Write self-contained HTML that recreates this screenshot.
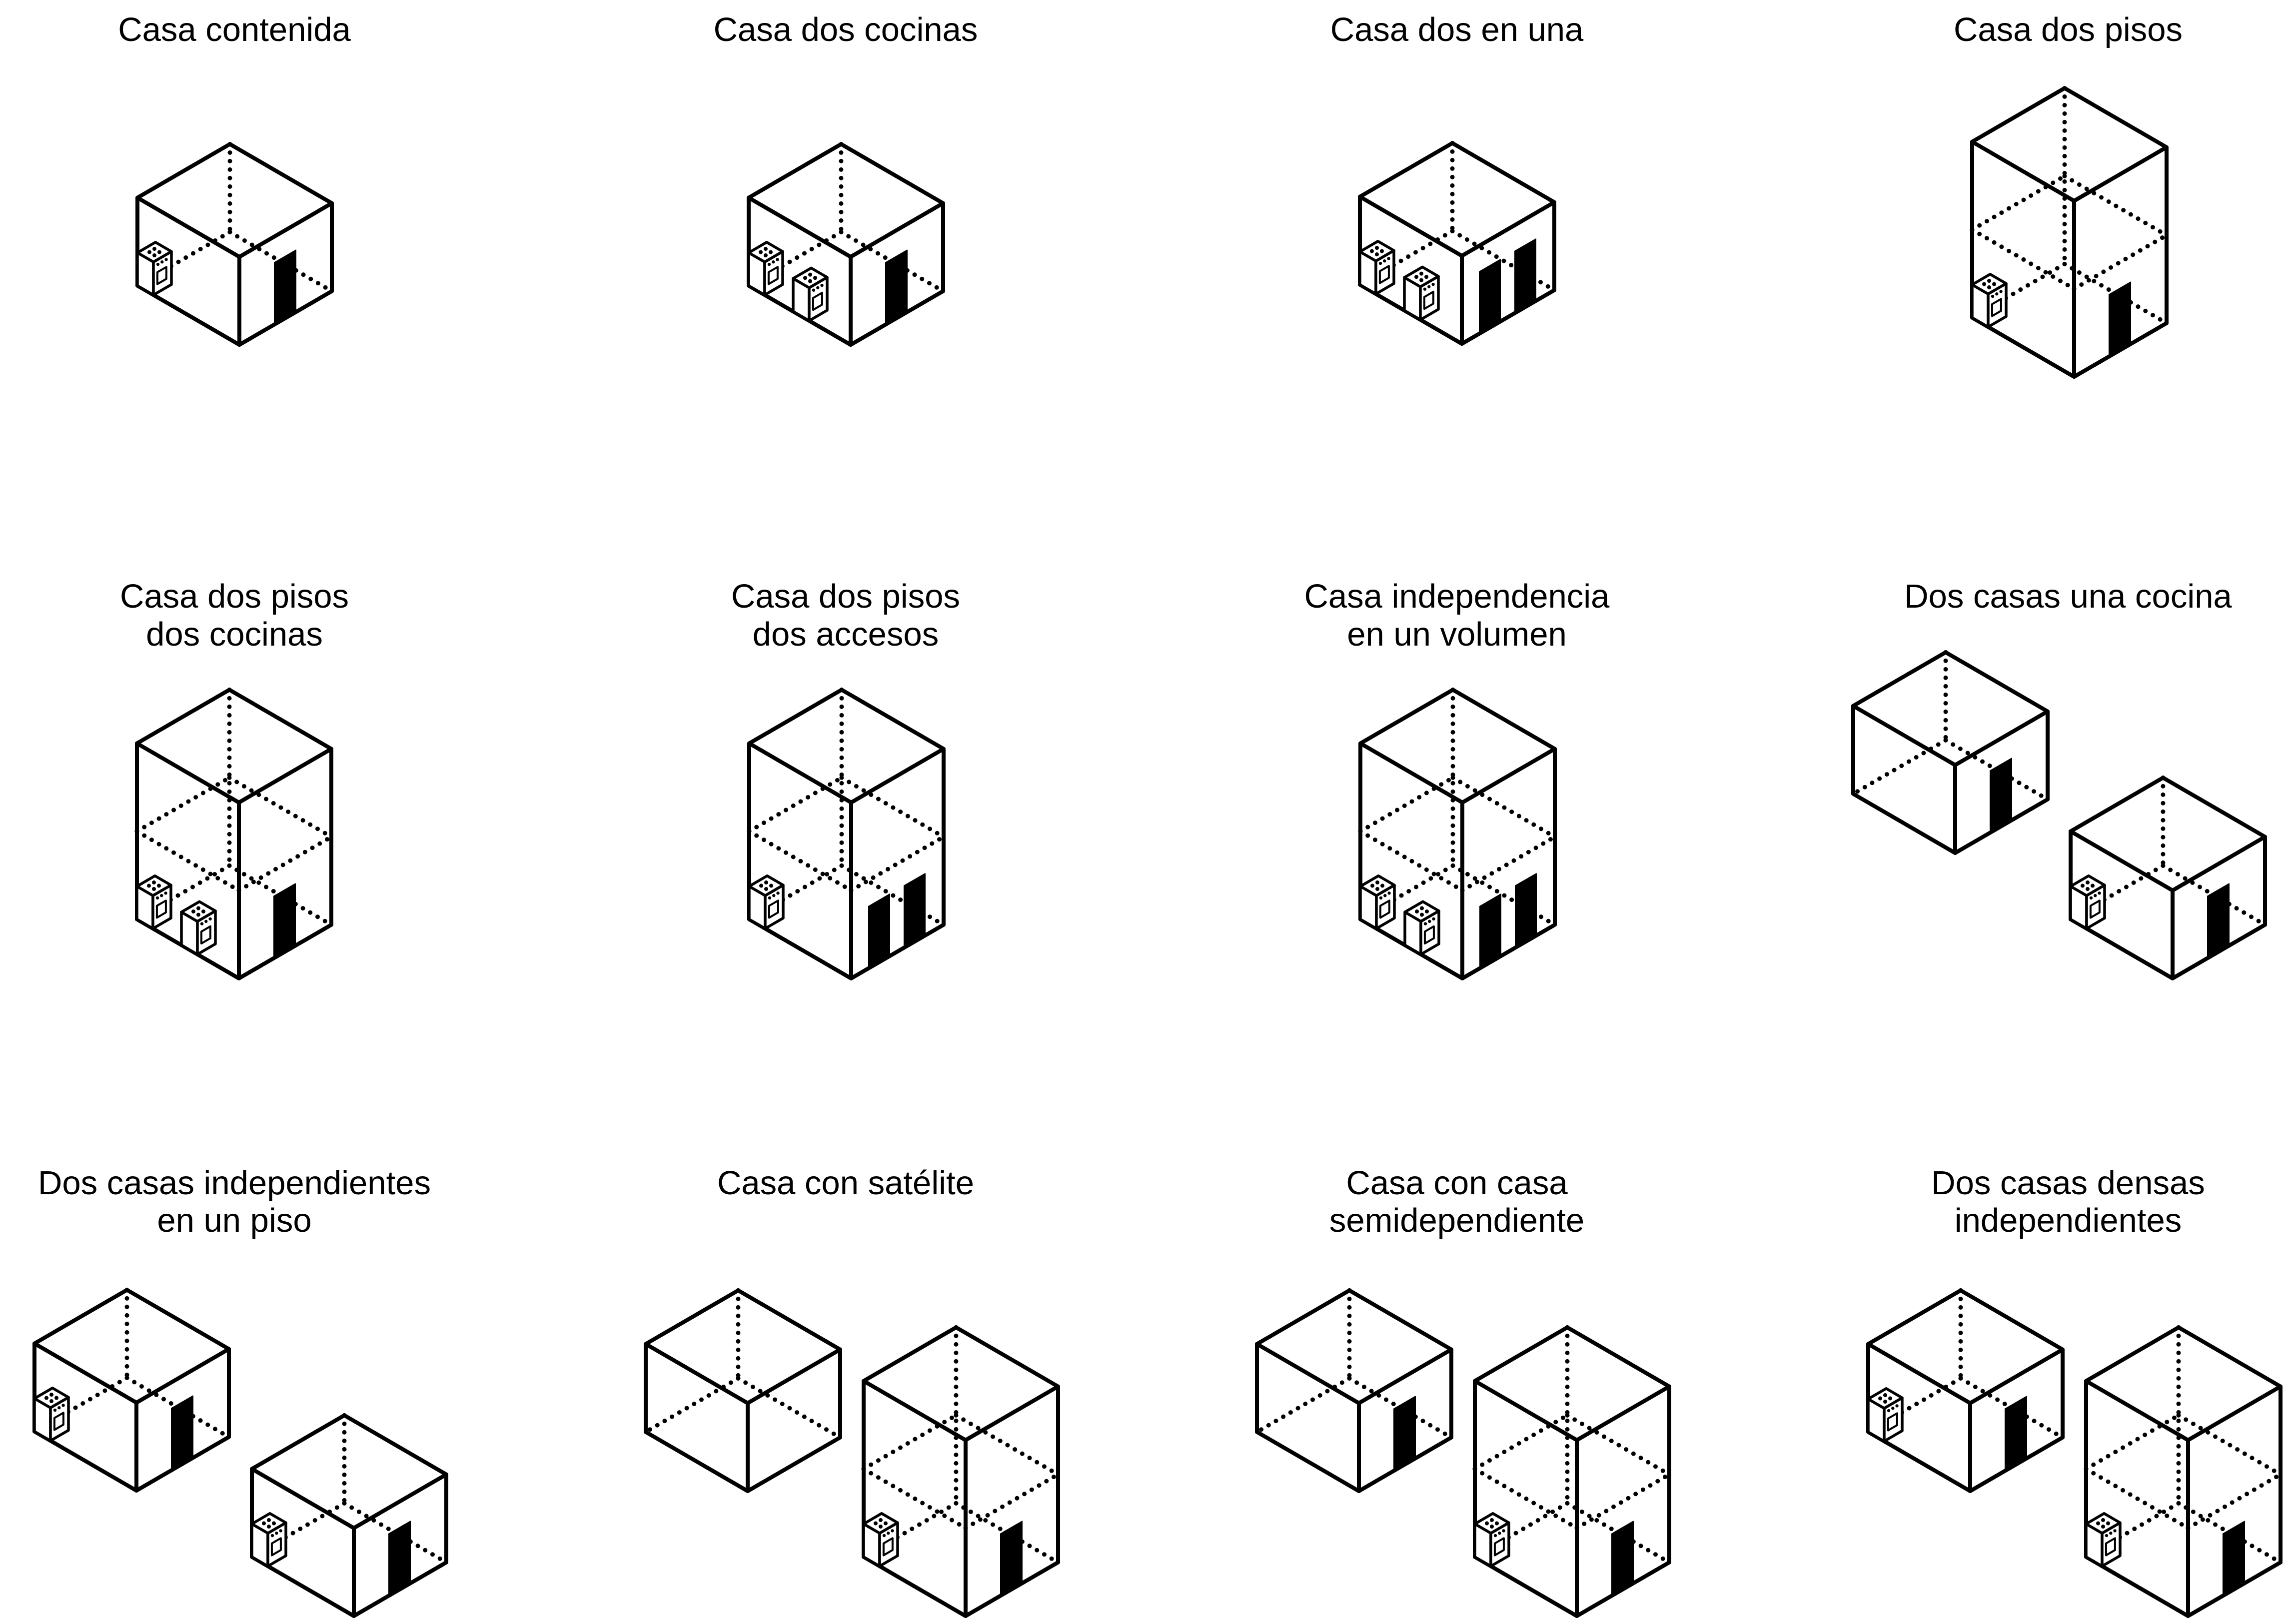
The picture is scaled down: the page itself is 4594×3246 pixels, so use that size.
<!DOCTYPE html>
<html><head><meta charset="utf-8">
<style>
html,body{margin:0;padding:0;background:#fff;}
svg{display:block;}
text{font-family:"Liberation Sans",Arial,sans-serif;font-size:67px;fill:#000;text-anchor:middle;}
</style></head>
<body>
<svg id="s" xmlns="http://www.w3.org/2000/svg" width="4594" height="3246" viewBox="0 0 4594 3246">
<rect width="4594" height="3246" fill="#fff"/>
<text x="469" y="82">Casa contenida</text>
<text x="1692" y="82">Casa dos cocinas</text>
<text x="2915" y="82">Casa dos en una</text>
<text x="4138" y="82">Casa dos pisos</text>
<text x="469" y="1216">Casa dos pisos</text>
<text x="469" y="1292">dos cocinas</text>
<text x="1692" y="1216">Casa dos pisos</text>
<text x="1692" y="1292">dos accesos</text>
<text x="2915" y="1216">Casa independencia</text>
<text x="2915" y="1292">en un volumen</text>
<text x="4138" y="1216">Dos casas una cocina</text>
<text x="469" y="2390">Dos casas independientes</text>
<text x="469" y="2465">en un piso</text>
<text x="1692" y="2390">Casa con satélite</text>
<text x="2915" y="2390">Casa con casa</text>
<text x="2915" y="2465">semidependiente</text>
<text x="4138" y="2390">Dos casas densas</text>
<text x="4138" y="2465">independientes</text>
<g id="g"></g>
</svg>
<script>
(function(){
var k=0.58,L=204,R=185,out=[],SW=8;
function P(a){return a.map(function(p){return p[0].toFixed(1)+","+p[1].toFixed(1);}).join(" ");}
function dot(p,q){out.push('<line x1="'+p[0]+'" y1="'+p[1]+'" x2="'+q[0]+'" y2="'+q[1]+'" stroke="#000" stroke-width="9" stroke-linecap="round" stroke-dasharray="0 17"/>');}
function line(p,q,w){out.push('<line x1="'+p[0]+'" y1="'+p[1]+'" x2="'+q[0]+'" y2="'+q[1]+'" stroke="#000" stroke-width="'+(w||SW)+'" stroke-linecap="round"/>');}
function poly(a,fill,w){out.push('<polygon points="'+P(a)+'" fill="'+fill+'" stroke="#000" stroke-width="'+w+'" stroke-linejoin="round"/>');}
function up(p,h){return [p[0],p[1]-h];}
function stove(ax,ay){
  var a=32,b=36,h=66;
  var A=[ax,ay],B=[ax+a,ay+a*k],C=[B[0]+b,B[1]-b*k],D=[ax+b,ay-b*k];
  var At=up(A,h),Bt=up(B,h),Ct=up(C,h),Dt=up(D,h);
  poly([A,B,Bt,At],"#fff",5.5);
  poly([B,C,Ct,Bt],"#fff",5.5);
  poly([At,Bt,Ct,Dt],"#fff",5.5);
  var cx=(At[0]+Ct[0])/2,cy=(At[1]+Ct[1])/2;
  [[0,-6.5],[-10,0],[10,0],[0,6.5]].forEach(function(o){out.push('<circle cx="'+(cx+o[0])+'" cy="'+(cy+o[1])+'" r="4" fill="#000"/>');});
  [0.25,0.48,0.71].forEach(function(f){var x=Bt[0]+f*b,y=Bt[1]-f*b*k+10;out.push('<circle cx="'+x+'" cy="'+y+'" r="3.2" fill="#000"/>');});
  function fp(f,t){return [Bt[0]+f*b,Bt[1]-f*b*k+t*h];}
  poly([fp(0.22,0.38),fp(0.72,0.38),fp(0.72,0.74),fp(0.22,0.74)],"#fff",4);
}
function door(fx,fy,a,b){
  var dh=124;
  out.push('<polygon points="'+P([[fx+a,fy-a*k],[fx+b,fy-b*k],[fx+b,fy-b*k-dh],[fx+a,fy-a*k-dh]])+'" fill="#000" stroke="#000" stroke-width="2" stroke-linejoin="round"/>');
}
function cube(fx,fy,tall,stoves,doors){
  var H=tall?352:176;
  var F=[fx,fy],Lb=[fx-L,fy-L*k],Rb=[fx+R,fy-R*k],Bb=[fx-L+R,fy-L*k-R*k];
  var Ft=up(F,H),Lt=up(Lb,H),Rt=up(Rb,H),Bt=up(Bb,H);
  dot(Bt,Bb);dot(Bb,Lb);dot(Bb,Rb);
  if(tall){
    var m=H/2,Fm=up(F,m),Lm=up(Lb,m),Rm=up(Rb,m),Bm=up(Bb,m);
    dot(Lm,Bm);dot(Bm,Rm);dot(Lm,Fm);dot(Fm,Rm);
  }
  out.push('<polygon points="'+P([Lt,Bt,Rt,Rb,F,Lb])+'" fill="none" stroke="#000" stroke-width="'+SW+'" stroke-linejoin="round"/>');
  line(Lt,Ft);line(Ft,Rt);line(Ft,F);
  (doors||[]).forEach(function(d){door(fx,fy,d[0],d[1]);});
  (stoves||[]).forEach(function(s){stove(Lb[0]+s,Lb[1]+s*k);});
}
var D1=[[70,113]],D2=[[35,77],[106,148]];
cube(479,690,false,[0],D1);
cube(1702,690,false,[0,89],D1);
cube(2925,688,false,[0,89],D2);
cube(4150,754,true,[0],D1);
cube(478,1958,true,[0,89],D1);
cube(1703,1958,true,[0],D2);
cube(2926,1958,true,[0,89],D2);
cube(3912,1707,false,[],D1);
cube(4347,1958,false,[0],D1);
cube(273,2983,false,[0],D1);
cube(708,3234,false,[0],D1);
cube(1496,2984,false,[],[]);
cube(1932,3234,true,[0],D1);
cube(2719,2984,false,[],D1);
cube(3155,3234,true,[0],D1);
cube(3942,2984,false,[0],D1);
cube(4378,3234,true,[0],D1);
document.getElementById("g").innerHTML=out.join("");
})();
</script>
</body></html>
